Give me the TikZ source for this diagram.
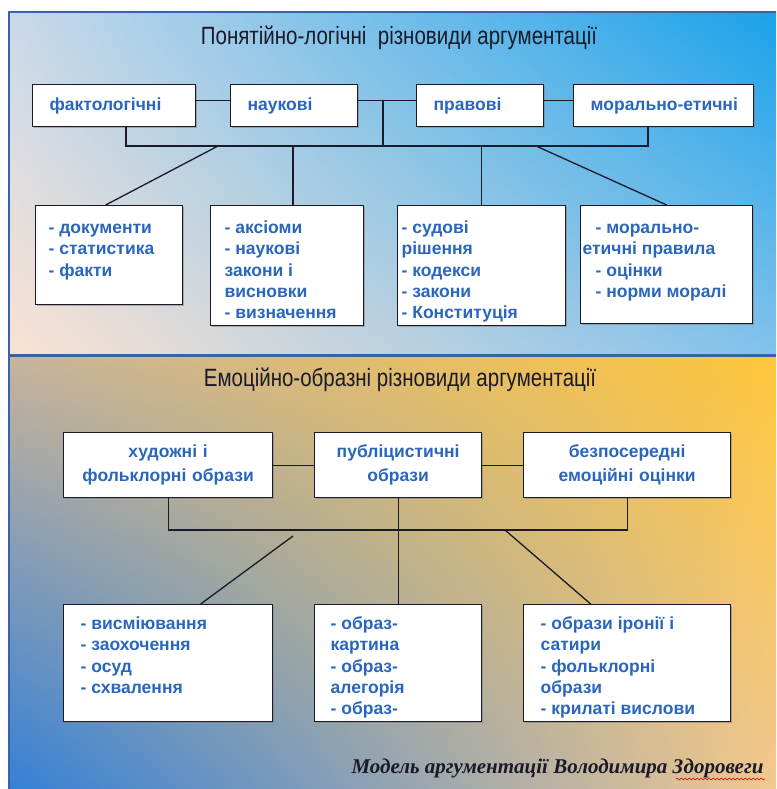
\documentclass[tikz,border=0pt]{standalone}
\usepackage{fontspec}
\setmainfont{Liberation Sans}
\newfontfamily\narrowfont{Liberation Sans}[FakeStretch=0.82]
\newfontfamily\capfont{Liberation Serif}
\usetikzlibrary{shadows,shadings,calc,decorations.pathmorphing}

\definecolor{ink}{HTML}{1A1A28}
\definecolor{itemblue}{HTML}{2A66BC}
\definecolor{framebl}{HTML}{3A62A8}
% upper panel corners
\definecolor{uTL}{RGB}{201,217,234}
\definecolor{uTR}{RGB}{26,162,234}
\definecolor{uBL}{RGB}{251,226,210}
\definecolor{uBR}{RGB}{130,194,236}
% lower panel corners
\definecolor{lTL}{RGB}{200,180,156}
\definecolor{lTR}{RGB}{254,198,58}
\definecolor{lBL}{RGB}{52,128,214}
\definecolor{lBR}{RGB}{242,200,144}

\begin{document}
\begin{tikzpicture}[x=1pt,y=-1pt,
  conn/.style={draw=ink,line width=1.3pt},
  box/.style={draw=ink,line width=1.3pt,fill=white,anchor=north west,
    drop shadow={shadow xshift=1.6pt,shadow yshift=-1.6pt,fill=black!50,opacity=0.55},
    font=\bfseries\fontsize{17.5}{21.2}\selectfont,text=itemblue},
  headbox/.style={box,inner xsep=17pt,align=left,minimum height=42pt},
  listbox/.style={box,inner ysep=0pt},
  imgbox/.style={box,align=center,minimum height=65pt,font=\bfseries\fontsize{17.5}{24}\selectfont},
  title/.style={font=\narrowfont\fontsize{25}{28}\selectfont,text=ink},
]
\useasboundingbox (0,0) rectangle (776,789);
\fill[white] (0,0) rectangle (776,789);

% panel backgrounds
\shade[upper left=uTL,upper right=uTR,lower left=uBL,lower right=uBR]
  (9,12) rectangle (776,355);
\shade[upper left=lTL,upper right=lTR,lower left=lBL,lower right=lBR]
  (9,355) rectangle (776,789);

% frame
\draw[framebl,line width=2pt] (9,789) -- (9,12) -- (776,12);
\draw[framebl,line width=3pt] (9,355) -- (776,355);

% ---------- upper panel ----------
\node[title] (t1) at (399,38) {Понятійно-логічні\ \ різновиди аргументації};

\node[headbox,text width=129pt] (f1) at (32,84)  {фактологічні};
\node[headbox,text width=93pt]  (f2) at (230,84) {наукові};
\node[headbox,text width=93pt]  (f3) at (416,84) {правові};
\node[headbox,text width=146pt] (f4) at (573,84) {\mbox{морально-етичні}};

\node[listbox,inner xsep=13pt] (a1) at (35,205)
  {\parbox[c][99pt][t]{121pt}{\raggedright\rule{0pt}{28pt}- документи\\- статистика\\- факти}};
\node[listbox,inner xsep=14pt] (a2) at (210,205)
  {\parbox[c][120pt][t]{125pt}{\raggedright\rule{0pt}{28pt}- аксіоми\\- наукові\\закони і\\висновки\\- визначення}};
\node[listbox,inner xsep=4pt] (a3) at (397,205)
  {\parbox[c][120pt][t]{160pt}{\raggedright\rule{0pt}{28pt}- судові\\рішення\\- кодекси\\- закони\\- Конституція}};
\node[listbox,inner xsep=2pt] (a4) at (580,205)
  {\parbox[c][118pt][t]{168pt}{\raggedright\rule{0pt}{28pt}\hspace*{13pt}- морально-\\етичні правила\\\hspace*{13pt}- оцінки\\\hspace*{13pt}- норми моралі}};

\coordinate (lev1) at (0,146);
\coordinate (j1)  at (383,100);
\coordinate (bL1) at (126,146);
\coordinate (bR1) at (648,146);
\coordinate (dl1) at (218,146);
\coordinate (v1)  at (293,146);
\coordinate (dr1) at (536,146);

\draw[conn] ([yshift=5pt]f1.east) -- ([yshift=5pt]f2.west);
\draw[conn] ([yshift=5pt]f2.east) -- ([yshift=5pt]f3.west);
\draw[conn] ([yshift=5pt]f3.east) -- ([yshift=5pt]f4.west);
\draw[conn] (bL1 |- f1.south) -- (bL1) -- (bR1) -- (bR1 |- f4.south);
\draw[conn] (j1) -- (j1 |- lev1);
\draw[conn] (dl1) -- ([xshift=-3.5pt]a1.north);
\draw[conn] (v1) -- (v1 |- a2.north);
\draw[conn] (a3.north |- lev1) -- (a3.north);
\draw[conn] (dr1) -- (a4.north);

% ---------- lower panel ----------
\node[title] (t2) at (400,380) {Емоційно-образні різновиди аргументації};

\node[imgbox,text width=209pt,inner xsep=0pt] (e1) at (63,432)  {художні і\\фольклорні образи};
\node[imgbox,text width=167pt,inner xsep=0pt] (e2) at (314,432) {публіцистичні\\образи};
\node[imgbox,text width=207pt,inner xsep=0pt] (e3) at (523,432) {безпосередні\\емоційні оцінки};

\node[listbox,inner xsep=17pt] (g1) at (63,604)
  {\parbox[c][117pt][t]{175pt}{\raggedright\rule{0pt}{25pt}- висміювання\\- заохочення\\- осуд\\- схвалення}};
\node[listbox,inner xsep=16pt] (g2) at (314,604)
  {\parbox[c][117pt][t]{135pt}{\raggedright\rule{0pt}{25pt}- образ-\\картина\\- образ-\\алегорія\\- образ-}};
\node[listbox,inner xsep=17pt] (g3) at (523,604)
  {\parbox[c][117pt][t]{173pt}{\raggedright\rule{0pt}{25pt}- образи іронії і\\сатири\\- фольклорні\\образи\\- крилаті вислови}};

\coordinate (lev2) at (0,530);
\coordinate (dl2) at (293,536);
\coordinate (dr2) at (505,530);

\draw[conn] (e1.east) -- (e2.west);
\draw[conn] (e2.east) -- (e3.west);
\draw[conn] (e1.south) -- (e1.south |- lev2) -- (e3.south |- lev2) -- (e3.south);
\draw[conn] (e2.south) -- (g2.north);
\draw[conn] (dl2) -- ([xshift=32.5pt]g1.north);
\draw[conn] (dr2) -- ([xshift=-36.5pt]g3.north);

% caption
\node[anchor=base east,font=\capfont\bfseries\itshape\fontsize{21}{25}\selectfont,text=ink]
  (cap) at (767,773) {Модель аргументації Володимира Здоровеги};
\draw[red!80!black,line width=0.6pt,decorate,
      decoration={snake,segment length=4pt,amplitude=0.9pt}] (676,779) -- (765,779);
\end{tikzpicture}
\end{document}
